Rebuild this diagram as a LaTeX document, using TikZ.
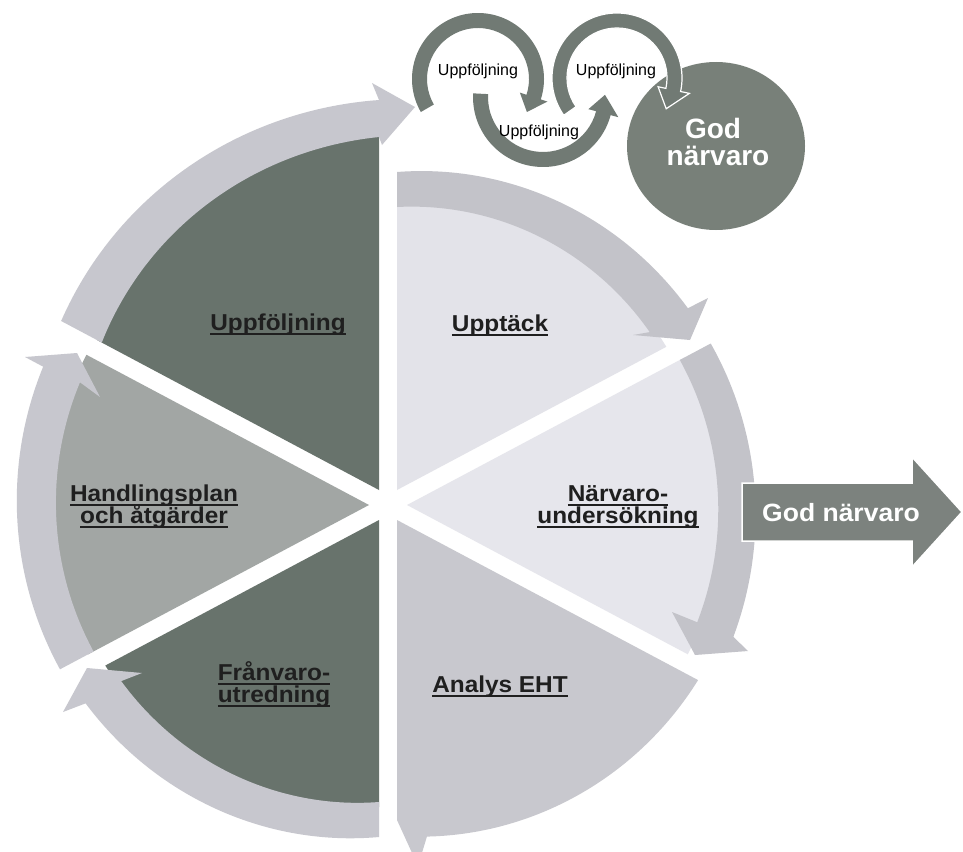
\documentclass[tikz,border=0pt]{standalone}
\usepackage{fontspec}
\setmainfont{Liberation Sans}
\definecolor{darkseg}{HTML}{68736C}
\definecolor{midseg}{HTML}{A2A6A4}
\definecolor{pieUpp}{HTML}{E3E3E9}
\definecolor{pieNar}{HTML}{E6E6EC}
\definecolor{analysc}{HTML}{C8C8CE}
\definecolor{bandA}{HTML}{C3C3C9}
\definecolor{bandB}{HTML}{C7C7CE}
\definecolor{loopc}{HTML}{717A74}
\definecolor{circc}{HTML}{788079}
\definecolor{boxc}{HTML}{7C827E}
\newcommand\myul[1]{\leavevmode\setbox0=\hbox{#1}\rlap{\rule[-5.3pt]{\wd0}{2pt}}\box0}
\begin{document}
\begin{tikzpicture}[x=1pt,y=1pt,
  arcm/.style n args={6}{insert path={plot[domain=#3:#4,samples=60,variable=\t]({#1+(#5+((#6)-(#5))*(\t-(#3))/((#4)-(#3)))*cos(\t)},{#2+(#5+((#6)-(#5))*(\t-(#3))/((#4)-(#3)))*sin(\t)})}},
  arcl/.style n args={6}{insert path={-- plot[domain=#3:#4,samples=60,variable=\t]({#1+(#5+((#6)-(#5))*(\t-(#3))/((#4)-(#3)))*cos(\t)},{#2+(#5+((#6)-(#5))*(\t-(#3))/((#4)-(#3)))*sin(\t)})}},
  bigl/.style={font=\fontsize{23}{23}\selectfont\bfseries, text=black!88, xscale=1.06, inner sep=0pt},
  smalll/.style={font=\fontsize{16}{16}\selectfont, text=black, inner sep=0pt},
  circl/.style={font=\fontsize{28}{28}\selectfont\bfseries, text=white, inner sep=0pt},
  boxl/.style={font=\fontsize{25}{25}\selectfont\bfseries, text=white, xscale=1.06, inner sep=0pt}]
\useasboundingbox (0,-851) rectangle (963,0);
\clip (0,-851) rectangle (963,0);
\fill[white] (0,-851) rectangle (963,0);
% Upptäck
\fill[pieUpp] (397,-490) [arcl={397}{-490}{90}{28}{289}{305}] -- cycle;
\fill[bandA] [arcm={397}{-490}{90}{32}{318}{343}] -- (708,-298) -- (690,-340) -- (633,-335) [arcl={397}{-490}{32}{90}{298}{283}] -- cycle;
% Närvaro
\fill[pieNar] (407,-505) [arcl={407}{-505}{28}{-28}{314}{318}] -- cycle;
\fill[bandA] [arcm={407}{-505}{28}{-22}{344}{352}] -- (748,-651) -- (695,-655) -- (672,-612) [arcl={407}{-505}{-22}{28}{313}{309}] -- cycle;
% Analys
\fill[analysc] (397,-520) [arcl={397}{-520}{-28}{-84.6}{341}{318}] -- (418,-866) -- (397,-820) -- cycle;
% Frånvaro
\fill[darkseg] (379,-520) [arcl={379}{-520}{270}{208}{287}{310}] -- cycle;
\fill[bandB] [arcm={379}{-520}{270}{212}{317}{346}] -- (63,-712) -- (87,-668) -- (142,-673) [arcl={379}{-520}{212}{270}{304}{282}] -- cycle;
% Handlingsplan
\fill[midseg] (369,-505) [arcl={369}{-505}{208}{152}{318}{320}] -- cycle;
\fill[bandB] [arcm={369}{-505}{208}{157}{350}{354}] -- (25,-357) -- (77,-353) -- (100,-397) [arcl={369}{-505}{157}{208}{314}{312}] -- cycle;
% Uppföljning
\fill[darkseg] (379,-490) [arcl={379}{-490}{152}{90}{319}{358}] -- cycle;
\fill[bandB] [arcm={379}{-490}{152}{90}{360}{390}] -- (372,-83) -- (415,-107) -- (382,-145) [arcl={379}{-490}{90}{152}{353}{314}] -- cycle;
% right arrow
\filldraw[boxc, draw=white, line width=1.5pt] (742,-483) -- (912,-483) -- (912,-457) -- (962,-512) -- (912,-567) -- (912,-541) -- (742,-541) -- cycle;
% top loops
\begin{scope}[shift={(478,-79)}]
\fill[loopc] (210:66) arc[start angle=210,end angle=-18,radius=66] -- (-18:73) -- (-34:59) -- (-18:44) -- (-18:51) arc[start angle=-18,end angle=210,radius=51] -- cycle;
\end{scope}
\begin{scope}[shift={(543,-97)}]
\fill[loopc] (177:70) arc[start angle=177,end angle=345,radius=70] -- (345:78) -- (362:62) -- (345:47) -- (345:55) arc[start angle=345,end angle=177,radius=55] -- cycle;
\end{scope}
\fill[circc] (716,-146) ellipse[x radius=89, y radius=84];
\begin{scope}[shift={(617,-78)}]
\filldraw[loopc, draw=white, line width=1.2pt] (215:65) arc[start angle=215,end angle=-12,radius=65] -- (-12:74) -- (-32:58) -- (-12:42) -- (-12:50) arc[start angle=-12,end angle=215,radius=50] -- cycle;
\end{scope}
% texts
\node[bigl, anchor=base] (tUpp) at (278,-330) {\myul{Uppföljning}};
\node[bigl, anchor=base] (tUpt) at (500,-331) {\myul{Upptäck}};
\node[bigl, anchor=base] (tHa1) at (154,-501) {\myul{Handlingsplan}};
\node[bigl, anchor=base] (tHa2) at (154,-523) {\myul{och åtgärder}};
\node[bigl, anchor=base] (tNa1) at (618,-501) {\myul{Närvaro-}};
\node[bigl, anchor=base] (tNa2) at (618,-523) {\myul{undersökning}};
\node[bigl, anchor=base] (tFr1) at (274,-680) {\myul{Frånvaro-}};
\node[bigl, anchor=base] (tFr2) at (274,-702) {\myul{utredning}};
\node[bigl, anchor=base] (tAn) at (500,-692) {\myul{Analys EHT}};
\node[smalll, anchor=base] (l1) at (478,-75) {Uppföljning};
\node[smalll, anchor=base] (l2) at (539,-136) {Uppföljning};
\node[smalll, anchor=base] (l3) at (616,-75) {Uppföljning};
\node[circl, anchor=base] (g1) at (713,-138) {God};
\node[circl, anchor=base] (g2) at (718,-165) {närvaro};
\node[boxl, anchor=base] (gb) at (841,-521) {God närvaro};
\end{tikzpicture}
\end{document}
